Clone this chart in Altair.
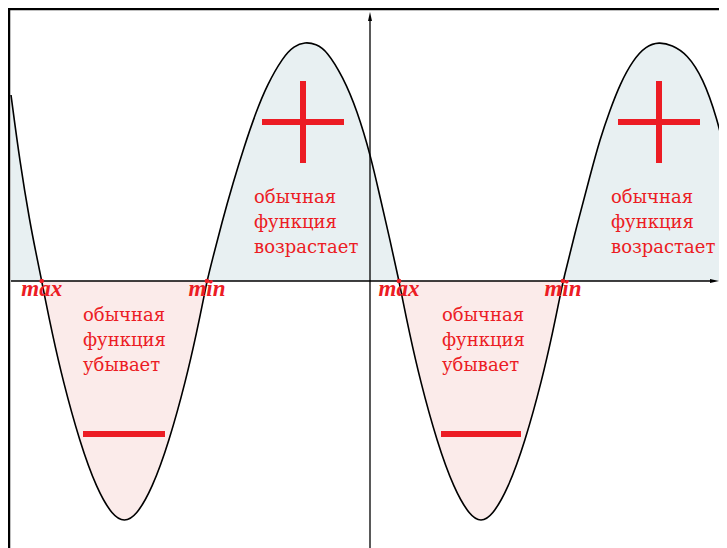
import altair as alt
import pandas as pd

# curve (x relative to the vertical axis, y relative to the horizontal axis)
curve_x = [-359, -350, -340, -334, -328.3,
           -325, -318.3, -307.3, -290.3, -273.3, -257.3, -245.6, -234, -218, -201, -184, -173, -166.3, -163,
           -158, -148, -137, -126, -114, -103, -87, -76, -65, -54, -43, -27, -13, 1, 10, 20, 29,
           32.3, 39, 50, 67, 84, 100, 111, 122, 138, 155, 172, 183, 189.7, 193,
           207, 220, 230, 240, 250, 263, 276, 289, 302, 317, 333, 347, 357]
curve_y = [186, 118, 58, 28, 0,
           -17, -50, -99, -161, -208, -235, -241, -235, -208, -161, -99, -50, -17, 0,
           20, 59, 98, 134, 169, 196, 224, 235, 239, 237, 230, 204, 171, 124, 84, 41, 0,
           -17, -50, -99, -161, -208, -235, -241, -235, -208, -161, -99, -50, -17, 0,
           56, 105, 142, 171, 197, 221, 235, 239, 236, 227, 203, 163, 121]

# extremum points (zero crossings) and their labels
ext_x = [-328.3, -163, 29, 193]
ext_label = ["max", "min", "max", "min"]

# annotation texts
txt_lines_pos = ["обычная", "функция", "возрастает"]
txt_lines_neg = ["обычная", "функция", "убывает"]
pos_text_x = [-116, 241]
neg_text_x = [-287, 72]
pos_text_y = [78, 53, 28]
neg_text_y = [-40, -65, -90]

# plus / minus signs
plus_cx = [-67, 289]
plus_cy = 159
plus_half = 41
minus_x1 = [-287, 71]
minus_x2 = [-205, 151]
minus_y = -153

RED = "#ec1c24"
POS_FILL = "#e8f0f2"
NEG_FILL = "#fbebea"

W, H = 711, 540
xs = alt.Scale(domain=[-362, 349], nice=False, zero=False)
ys = alt.Scale(domain=[-267, 273], nice=False, zero=False)

df = pd.DataFrame({"x": curve_x, "y": curve_y})
df["pos"] = df["y"].clip(lower=0)
df["neg"] = df["y"].clip(upper=0)
df["zero"] = 0

base = alt.Chart(df)
X = alt.X("x:Q", scale=xs, axis=None)

pos_area = base.mark_area(color=POS_FILL, interpolate="basis", clip=True).encode(
    x=X, y=alt.Y("pos:Q", scale=ys, axis=None), y2="zero:Q")
neg_area = base.mark_area(color=NEG_FILL, interpolate="basis", clip=True).encode(
    x=X, y=alt.Y("neg:Q", scale=ys, axis=None), y2="zero:Q")

axes_df = pd.DataFrame({
    "x1": [-359, 0], "x2": [343, 0], "y1": [0, -267], "y2": [0, 262]})
axis_rules = alt.Chart(axes_df).mark_rule(color="black", strokeWidth=1.3).encode(
    x=alt.X("x1:Q", scale=xs, axis=None), x2="x2:Q",
    y=alt.Y("y1:Q", scale=ys, axis=None), y2="y2:Q")

arrow_up = alt.Chart(pd.DataFrame({"x": [0], "y": [264]})).mark_point(
    shape="M0,-1L0.4,0.8L-0.4,0.8Z", filled=True, color="black", size=100, opacity=1).encode(
    x=alt.X("x:Q", scale=xs, axis=None), y=alt.Y("y:Q", scale=ys, axis=None))
arrow_right = alt.Chart(pd.DataFrame({"x": [344], "y": [0]})).mark_point(
    shape="M1,0L-0.8,0.4L-0.8,-0.4Z", filled=True, color="black", size=100, opacity=1).encode(
    x=alt.X("x:Q", scale=xs, axis=None), y=alt.Y("y:Q", scale=ys, axis=None))

line = base.mark_line(color="black", strokeWidth=1.6, interpolate="basis", clip=True).encode(
    x=X, y=alt.Y("y:Q", scale=ys, axis=None))

ext_df = pd.DataFrame({"x": ext_x, "y": [0] * 4, "lab": ext_label, "ly": [-15] * 4})
dots = alt.Chart(ext_df).mark_point(filled=True, color=RED, size=22, opacity=1).encode(
    x=alt.X("x:Q", scale=xs, axis=None), y=alt.Y("y:Q", scale=ys, axis=None))
ext_labels = alt.Chart(ext_df).mark_text(
    font="Liberation Serif", fontSize=23, fontStyle="italic", fontWeight="bold",
    color=RED, align="center", baseline="alphabetic").encode(
    x=alt.X("x:Q", scale=xs, axis=None), y=alt.Y("ly:Q", scale=ys, axis=None), text="lab:N")

rows = []
for tx in pos_text_x:
    for t, ty in zip(txt_lines_pos, pos_text_y):
        rows.append({"x": tx, "y": ty, "t": t})
for tx in neg_text_x:
    for t, ty in zip(txt_lines_neg, neg_text_y):
        rows.append({"x": tx, "y": ty, "t": t})
texts = alt.Chart(pd.DataFrame(rows)).mark_text(
    font="DejaVu Serif", fontSize=18, color=RED, align="left", baseline="alphabetic").encode(
    x=alt.X("x:Q", scale=xs, axis=None), y=alt.Y("y:Q", scale=ys, axis=None), text="t:N")

sign_rows = []
for cx in plus_cx:
    sign_rows.append({"x1": cx - plus_half, "x2": cx + plus_half, "y1": plus_cy, "y2": plus_cy})
    sign_rows.append({"x1": cx, "x2": cx, "y1": plus_cy - plus_half, "y2": plus_cy + plus_half})
for a, b in zip(minus_x1, minus_x2):
    sign_rows.append({"x1": a, "x2": b, "y1": minus_y, "y2": minus_y})
signs = alt.Chart(pd.DataFrame(sign_rows)).mark_rule(color=RED, strokeWidth=6).encode(
    x=alt.X("x1:Q", scale=xs, axis=None), x2="x2:Q",
    y=alt.Y("y1:Q", scale=ys, axis=None), y2="y2:Q")

frame_top = alt.Chart(pd.DataFrame({"a": [0]})).mark_rule(color="black", strokeWidth=2.5).encode(
    x=alt.value(0), x2=alt.value(W), y=alt.value(1))
frame_left = alt.Chart(pd.DataFrame({"a": [0]})).mark_rule(color="black", strokeWidth=2.5).encode(
    x=alt.value(1), y=alt.value(0), y2=alt.value(H))

chart = alt.layer(
    pos_area, neg_area, axis_rules, arrow_up, arrow_right, line, signs, texts,
    dots, ext_labels, frame_top, frame_left
).properties(
    width=W, height=H, padding=0, autosize=alt.AutoSizeParams(type="none")
).configure_view(stroke=None)

chart.save("out.html", embed_options={"renderer": "svg", "actions": False})
